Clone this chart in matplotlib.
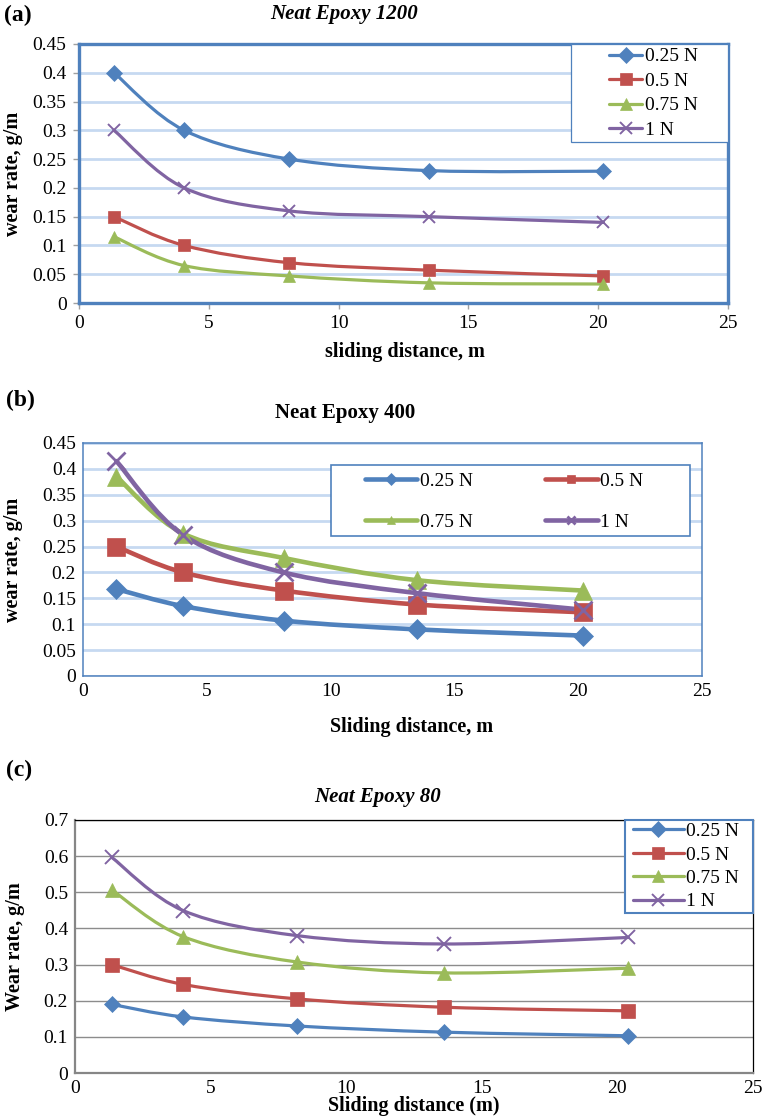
import matplotlib
matplotlib.use("Agg")
import matplotlib.pyplot as plt
from matplotlib.path import Path
from matplotlib.patches import PathPatch, Rectangle
from matplotlib.lines import Line2D
from matplotlib.ticker import FuncFormatter, MultipleLocator

plt.rcParams["font.family"] = ["Liberation Serif", "DejaVu Serif"]

labels = ["0.25 N", "0.5 N", "0.75 N", "1 N"]
colors = ["#4F81BD", "#C0504D", "#9BBB59", "#8064A2"]
markers = ["D", "s", "^", "x"]

# (a) Neat Epoxy 1200
dist_a = [1.35, 4.05, 8.1, 13.5, 20.2]
a_025 = [0.4, 0.3, 0.25, 0.23, 0.229]
a_05 = [0.15, 0.1, 0.07, 0.057, 0.047]
a_075 = [0.115, 0.065, 0.047, 0.035, 0.033]
a_1 = [0.3, 0.2, 0.16, 0.15, 0.14]

# (b) Neat Epoxy 400
dist_b = [1.35, 4.05, 8.1, 13.5, 20.2]
b_025 = [0.168, 0.135, 0.107, 0.09, 0.078]
b_05 = [0.25, 0.2, 0.165, 0.138, 0.123]
b_075 = [0.385, 0.275, 0.228, 0.185, 0.165]
b_1 = [0.415, 0.272, 0.2, 0.16, 0.128]

# (c) Neat Epoxy 80
dist_c = [1.35, 4.0, 8.2, 13.6, 20.4]
c_025 = [0.19, 0.155, 0.13, 0.113, 0.103]
c_05 = [0.3, 0.245, 0.205, 0.182, 0.172]
c_075 = [0.507, 0.377, 0.307, 0.277, 0.29]
c_1 = [0.597, 0.449, 0.38, 0.357, 0.375]


def smooth_path(xs, ys):
    # Excel-like smoothed line: Catmull-Rom segments as cubic Bezier curves
    pts = list(zip(xs, ys))
    n = len(pts)
    verts = [pts[0]]
    codes = [Path.MOVETO]
    for i in range(n - 1):
        p0 = pts[max(i - 1, 0)]
        p1 = pts[i]
        p2 = pts[i + 1]
        p3 = pts[min(i + 2, n - 1)]
        c1 = (p1[0] + (p2[0] - p0[0]) / 6, p1[1] + (p2[1] - p0[1]) / 6)
        c2 = (p2[0] - (p3[0] - p1[0]) / 6, p2[1] - (p3[1] - p1[1]) / 6)
        verts += [c1, c2, p2]
        codes += [Path.CURVE4] * 3
    return Path(verts, codes)


def fmt(v, pos):
    return f"{round(v, 3):g}"


fig = plt.figure(figsize=(7.62, 11.2), dpi=100)


def panel(rect, xs, series, ymax, ystep, lw, ms, grid_color, grid_lw):
    ax = fig.add_axes(rect)
    for ys, c, m in zip(series, colors, markers):
        ax.add_patch(PathPatch(smooth_path(xs, ys), fill=False, edgecolor=c,
                               lw=lw, capstyle="round", zorder=3))
        mew = lw * 0.6 if m == "x" else 0.5
        ax.plot(xs, ys, linestyle="none", marker=m, color=c, ms=ms * (0.85 if m == "D" else 1),
                mec=c, mew=mew, zorder=4, clip_on=False)
    ax.set_xlim(0, 25)
    ax.set_ylim(0, ymax)
    ax.xaxis.set_major_locator(MultipleLocator(5))
    ax.yaxis.set_major_locator(MultipleLocator(ystep))
    ax.yaxis.set_major_formatter(FuncFormatter(fmt))
    ax.xaxis.set_major_formatter(FuncFormatter(fmt))
    ax.grid(axis="y", color=grid_color, lw=grid_lw, zorder=0)
    ax.set_axisbelow(True)
    ax.tick_params(labelsize=14, length=0, pad=5)
    return ax


def add_legend(ax, box, anchor, ncol, lw, ms, handlelength, labelspacing, columnspacing,
               box_lw, order=(0, 1, 2, 3)):
    handles = [Line2D([], [], color=colors[i], lw=lw, marker=markers[i], ms=ms, mec=colors[i],
                      mew=(lw * 0.6 if markers[i] == "x" else 0.5), solid_capstyle="round")
               for i in order]
    ax.add_patch(Rectangle((box[0], box[1]), box[2], box[3], transform=ax.transAxes,
                           fill=True, facecolor="white", edgecolor="#4F81BD", lw=box_lw,
                           zorder=5, clip_on=False))
    leg = ax.legend(handles, [labels[i] for i in order], loc="upper left",
                    bbox_to_anchor=anchor, ncol=ncol, frameon=False, fontsize=14,
                    handlelength=handlelength, handletextpad=0.15, labelspacing=labelspacing,
                    columnspacing=columnspacing, borderpad=0, borderaxespad=0)
    leg.set_zorder(6)
    return leg


# ---- (a)
ax1 = panel([79 / 762, 1 - 303 / 1120, 649 / 762, 259 / 1120], dist_a,
            [a_025, a_05, a_075, a_1], 0.45, 0.05, 2.3, 9, "#C6D9F1", 2.0)
for s in ax1.spines.values():
    s.set_color("#4F81BD")
    s.set_linewidth(2.4)
ax1.tick_params(length=4, color="#A0A0A0", width=1)
add_legend(ax1, (0.758, 0.622, 0.242, 0.378), (0.817, 0.985), 1, 2.3, 8, 1.7, 0.35, 1.0, 0.9)
ax1.set_ylabel("wear rate, g/m", fontsize=14.5, fontweight="bold")
ax1.yaxis.set_label_coords(-0.086, 0.5)
ax1.set_xlabel("sliding distance, m", fontsize=14.5, fontweight="bold", va="center")
ax1.xaxis.set_label_coords(0.502, -0.189)
fig.text(344 / 762, 1 - 14 / 1120, "Neat Epoxy 1200", fontsize=15, fontweight="bold",
         fontstyle="italic", ha="center", va="center")
fig.text(4 / 762, 1 - 15 / 1120, "(a)", fontsize=17, fontweight="bold", ha="left", va="center")

# ---- (b)
ax2 = panel([83 / 762, 1 - 676 / 1120, 619 / 762, 233 / 1120], dist_b,
            [b_025, b_05, b_075, b_1], 0.45, 0.05, 3.3, 12.5, "#C6D9F1", 2.0)
for s in ax2.spines.values():
    s.set_color("#4F81BD")
    s.set_linewidth(1.1)
add_legend(ax2, (0.40, 0.60, 0.58, 0.306), (0.455, 0.875), 2, 3.3, 6, 2.7, 1.2, 3.7, 1.2,
           order=(0, 2, 1, 3))
ax2.set_ylabel("wear rate, g/m", fontsize=14.5, fontweight="bold")
ax2.yaxis.set_label_coords(-0.097, 0.5)
ax2.set_xlabel("Sliding distance, m", fontsize=14.5, fontweight="bold", va="center")
ax2.xaxis.set_label_coords(0.53, -0.219)
fig.text(345 / 762, 1 - 413 / 1120, "Neat Epoxy 400", fontsize=15, fontweight="bold",
         ha="center", va="center")
fig.text(6 / 762, 1 - 400 / 1120, "(b)", fontsize=17, fontweight="bold", ha="left", va="center")

# ---- (c)
ax3 = panel([75 / 762, 1 - 1073 / 1120, 678 / 762, 253 / 1120], dist_c,
            [c_025, c_05, c_075, c_1], 0.7, 0.1, 2.3, 9.5, "#8C8C8C", 1.0)
ax3.spines["left"].set_color("#868686")
ax3.spines["bottom"].set_color("#868686")
ax3.spines["left"].set_linewidth(1.6)
ax3.spines["bottom"].set_linewidth(1.6)
ax3.spines["top"].set_color("black")
ax3.spines["right"].set_color("black")
ax3.spines["top"].set_linewidth(0.9)
ax3.spines["right"].set_linewidth(0.9)
add_legend(ax3, (0.811, 0.632, 0.189, 0.368), (0.823, 0.99), 1, 2.3, 8, 2.6, 0.3, 1.0, 1.5)
ax3.set_ylabel("Wear rate, g/m", fontsize=14.5, fontweight="bold")
ax3.yaxis.set_label_coords(-0.074, 0.5)
ax3.set_xlabel("Sliding distance (m)", fontsize=14.5, fontweight="bold", va="center")
ax3.xaxis.set_label_coords(0.5, -0.13)
fig.text(378 / 762, 1 - 797 / 1120, "Neat Epoxy 80", fontsize=15, fontweight="bold",
         fontstyle="italic", ha="center", va="center")
fig.text(6 / 762, 1 - 770 / 1120, "(c)", fontsize=17, fontweight="bold", ha="left", va="center")

fig.savefig("out.png", dpi=100)
